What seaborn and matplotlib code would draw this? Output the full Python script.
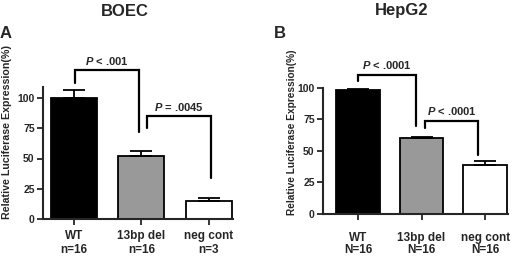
import numpy as np
import pandas as pd
import matplotlib
matplotlib.use("Agg")
import matplotlib.pyplot as plt
import matplotlib.transforms as mtransforms
import seaborn as sns

sns.set_style("ticks")
plt.rcParams['font.family'] = ['Liberation Sans', 'DejaVu Sans']
plt.rcParams['font.weight'] = 'bold'
plt.rcParams['mathtext.fontset'] = 'custom'
plt.rcParams['mathtext.bfit'] = 'Liberation Sans:italic:bold'
plt.rcParams['mathtext.it'] = 'Liberation Sans:italic:bold'

categories = ["WT", "13bp del", "neg cont"]
colors = ["#000000", "#999999", "#ffffff"]

# Panel A: BOEC
boec_vals = [100, 52, 15]
boec_err = [7, 4, 2]
boec_n = ["n=16", "n=16", "n=3"]
# brackets: (left x, right x, top, left-leg bottom, right-leg bottom, text)
boec_brackets = [(0.015, 0.96, 123, 112, 72, "< .001"),
                 (1.08, 2.04, 85, 75, 34, "= .0045")]

# Panel B: HepG2
hep_vals = [98, 60, 39]
hep_err = [1, 1, 3]
hep_n = ["N=16", "N=16", "N=16"]
hep_brackets = [(0.0, 0.91, 110, 105.5, 69.5, "< .0001"),
                (1.06, 1.89, 73.5, 68.5, 47, "< .0001")]

fig = plt.figure(figsize=(5.2, 2.57), dpi=100)

def panel(rect, vals, errs, ns, brackets, ymax_spine, xlim, title, letter,
          title_xy, letter_xy, ylabel_x, ylabel_fs, pad):
    ax = fig.add_axes(rect)
    df = pd.DataFrame({"cat": categories, "val": vals})
    sns.barplot(data=df, x="cat", y="val", hue="cat", palette=colors, width=0.68,
                edgecolor="black", linewidth=1.3, legend=False, ax=ax, errorbar=None)
    xs = np.arange(len(vals))
    ax.errorbar(xs, vals, yerr=[np.zeros(len(vals)), errs], fmt="none",
                ecolor="black", elinewidth=1.3, capsize=8, capthick=1.3, zorder=1)
    for (xl, xr, top, lb, rb, txt) in brackets:
        ax.plot([xl, xl, xr, xr], [lb, top, top, rb], color="black",
                lw=1.6, solid_joinstyle="miter", clip_on=False)
        ax.text((xl + xr) / 2, top + 3, r"$\mathit{P}$ " + txt, ha="center",
                va="bottom", fontsize=8, fontweight="bold")
    ax.set_ylim(0, 130)
    ax.set_xlim(*xlim)
    ax.set_yticks([0, 25, 50, 75, 100])
    ax.set_yticklabels(["0", "25", "50", "75", "100"], fontsize=7.5, fontweight="bold")
    ax.set_xticks(xs)
    ax.set_xticklabels(categories, fontsize=8.5, fontweight="bold")
    trans = mtransforms.blended_transform_factory(ax.transData, fig.transFigure)
    for x, n in zip(xs, ns):
        ax.text(x, 1 - 250 / 257, n, transform=trans, ha="center", va="center",
                fontsize=8.5, fontweight="bold")
    ax.set_xlabel("")
    ax.set_ylabel("")
    sns.despine(ax=ax)
    ax.spines["left"].set_bounds(0, ymax_spine)
    ax.spines["left"].set_linewidth(1.5)
    ax.spines["bottom"].set_linewidth(1.5)
    ax.tick_params(axis="y", width=1.3, length=4, pad=2)
    ax.tick_params(axis="x", width=1.3, length=4, pad=pad)
    fig.text(ylabel_x, 1 - 132 / 257, "Relative Luciferase Expression(%)",
             rotation=90, ha="center", va="center", fontsize=ylabel_fs, fontweight="bold")
    fig.text(title_xy[0], title_xy[1], title, ha="center", va="center", fontsize=12,
             fontweight="bold")
    fig.text(letter_xy[0], letter_xy[1], letter, ha="left", va="center", fontsize=12,
             fontweight="bold")
    return ax

panel([43/520, 38/257, 190/520, 157.3/257], boec_vals, boec_err, boec_n, boec_brackets,
      109, (-0.46, 2.36), "BOEC", "A", (125/520, 1 - 11/257), (0/520, 1 - 33/257),
      7/520, 7.7, 4)
panel([323/520, 43/257, 185/520, 164/257], hep_vals, hep_err, hep_n, hep_brackets,
      100, (-0.55, 2.36), "HepG2", "B", (402/520, 1 - 11/257), (274/520, 1 - 33/257),
      292/520, 7.3, 9)

fig.savefig("out.png", dpi=100)
